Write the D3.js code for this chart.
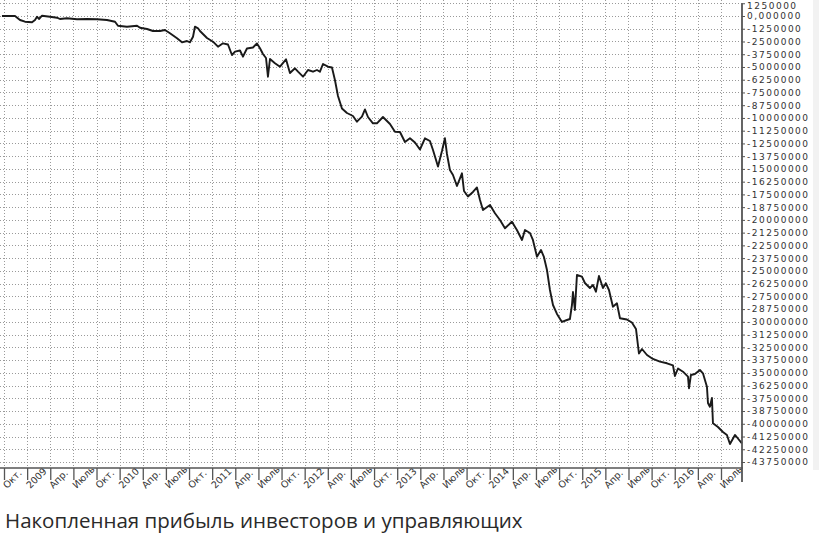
<!DOCTYPE html>
<html>
<head>
<meta charset="utf-8">
<script src="https://cdn.jsdelivr.net/npm/d3@7"></script>
<style>
  html, body { margin: 0; padding: 0; background: #fff; }
  svg { display: block; }
</style>
</head>
<body>
<svg id="chart" width="819" height="539"></svg>
<script>
// ---- DATA ----
// time as decimal year, value in millions
const years = [
  2008.728, 2008.869, 2008.923, 2008.977, 2009.053, 2009.085, 2009.107, 2009.128, 2009.161, 2009.247,
  2009.323, 2009.355, 2009.431, 2009.539, 2009.647, 2009.755, 2009.863, 2009.950, 2009.982, 2010.079,
  2010.188, 2010.220, 2010.296, 2010.360, 2010.436, 2010.490, 2010.544, 2010.620, 2010.674, 2010.728,
  2010.760, 2010.793, 2010.814, 2010.847, 2010.868, 2010.944, 2011.009, 2011.063, 2011.117, 2011.171,
  2011.214, 2011.247, 2011.301, 2011.333, 2011.376, 2011.441, 2011.484, 2011.517, 2011.549, 2011.582,
  2011.603, 2011.625, 2011.679, 2011.733, 2011.798, 2011.841, 2011.895, 2011.928, 2011.982, 2012.036,
  2012.090, 2012.133, 2012.165, 2012.198, 2012.252, 2012.295, 2012.327, 2012.360, 2012.403, 2012.457,
  2012.522, 2012.565, 2012.619, 2012.652, 2012.684, 2012.738, 2012.781, 2012.846, 2012.922, 2012.976,
  2013.030, 2013.084, 2013.138, 2013.192, 2013.246, 2013.300, 2013.354, 2013.387, 2013.441, 2013.484,
  2013.516, 2013.538, 2013.570, 2013.603, 2013.646, 2013.700, 2013.722, 2013.765, 2013.819, 2013.862,
  2013.895, 2013.927, 2014.003, 2014.057, 2014.111, 2014.165, 2014.240, 2014.294, 2014.349, 2014.381,
  2014.435, 2014.467, 2014.511, 2014.554, 2014.586, 2014.619, 2014.651, 2014.684, 2014.727, 2014.781,
  2014.835, 2014.867, 2014.889, 2014.900, 2014.921, 2014.943, 2014.997, 2015.029, 2015.083, 2015.116,
  2015.148, 2015.181, 2015.224, 2015.256, 2015.289, 2015.332, 2015.375, 2015.408, 2015.483, 2015.537,
  2015.581, 2015.613, 2015.646, 2015.700, 2015.764, 2015.840, 2015.916, 2015.981, 2016.002, 2016.035,
  2016.089, 2016.143, 2016.154, 2016.175, 2016.218, 2016.272, 2016.305, 2016.348, 2016.359, 2016.380,
  2016.402, 2016.413, 2016.467, 2016.521, 2016.564, 2016.597, 2016.651, 2016.683, 2016.726
];
const profit = [
  0, 0, -0.392, -0.559, -0.618, -0.392, -0.069, -0.294, 0.029, -0.069,
  -0.167, -0.294, -0.226, -0.324, -0.294, -0.324, -0.392, -0.559, -0.951, -1.050,
  -0.951, -1.148, -1.275, -1.471, -1.471, -1.373, -1.697, -2.187, -2.580, -2.452,
  -2.580, -2.030, -1.050, -1.207, -1.471, -2.158, -2.521, -3.011, -2.678, -2.796,
  -3.826, -3.502, -3.384, -3.992, -3.188, -3.090, -2.697, -3.168, -3.727, -4.120,
  -5.954, -4.218, -4.640, -4.973, -4.247, -5.591, -5.130, -5.464, -5.954, -5.297,
  -5.464, -5.297, -5.464, -4.708, -4.973, -5.052, -6.278, -7.847, -9.073, -9.515,
  -9.809, -10.368, -9.878, -9.171, -9.907, -10.525, -10.525, -9.907, -10.594, -11.349,
  -11.378, -12.359, -11.996, -12.408, -13.095, -11.996, -12.261, -13.144, -14.763, -13.242,
  -11.996, -13.536, -15.106, -15.596, -16.675, -15.430, -17.166, -17.705, -17.264, -16.822,
  -18.049, -19.029, -18.539, -19.353, -20.010, -20.824, -20.177, -20.991, -21.972, -20.991,
  -21.286, -21.972, -23.610, -22.953, -23.640, -24.915, -26.877, -28.349, -29.231, -30.016,
  -29.820, -29.722, -28.349, -27.073, -28.839, -25.405, -25.572, -26.190, -26.680, -26.386,
  -27.044, -25.503, -26.680, -26.219, -26.877, -28.515, -28.181, -29.653, -29.770, -30.065,
  -30.702, -33.106, -32.664, -33.253, -33.645, -33.910, -34.067, -34.282, -35.312, -34.577,
  -34.891, -35.381, -36.519, -35.214, -35.116, -34.724, -35.048, -36.362, -37.961, -38.324,
  -37.471, -39.953, -40.316, -40.806, -41.100, -41.983, -41.100, -41.444, -41.915
];
// quarterly x ticks
const xTickYears = [2008.75, 2009.0, 2009.25, 2009.5, 2009.75, 2010.0, 2010.25, 2010.5, 2010.75,
  2011.0, 2011.25, 2011.5, 2011.75, 2012.0, 2012.25, 2012.5, 2012.75, 2013.0, 2013.25, 2013.5,
  2013.75, 2014.0, 2014.25, 2014.5, 2014.75, 2015.0, 2015.25, 2015.5, 2015.75, 2016.0, 2016.25, 2016.5];
const xTickLabels = ["Окт.", "2009", "Апр.", "Июль", "Окт.", "2010", "Апр.", "Июль", "Окт.",
  "2011", "Апр.", "Июль", "Окт.", "2012", "Апр.", "Июль", "Окт.", "2013", "Апр.", "Июль",
  "Окт.", "2014", "Апр.", "Июль", "Окт.", "2015", "Апр.", "Июль", "Окт.", "2016", "Апр.", "Июль"];
// y ticks (millions) and their labels
const yTickValues = [1.25, 0, -1.25, -2.5, -3.75, -5, -6.25, -7.5, -8.75, -10, -11.25, -12.5, -13.75,
  -15, -16.25, -17.5, -18.75, -20, -21.25, -22.5, -23.75, -25, -26.25, -27.5, -28.75, -30, -31.25,
  -32.5, -33.75, -35, -36.25, -37.5, -38.75, -40, -41.25, -42.5, -43.75];
const yTickLabels = ["1250000", "0,000000", "-1250000", "-2500000", "-3750000", "-5000000", "-6250000",
  "-7500000", "-8750000", "-10000000", "-11250000", "-12500000", "-13750000", "-15000000", "-16250000",
  "-17500000", "-18750000", "-20000000", "-21250000", "-22500000", "-23750000", "-25000000", "-26250000",
  "-27500000", "-28750000", "-30000000", "-31250000", "-32500000", "-33750000", "-35000000", "-36250000",
  "-37500000", "-38750000", "-40000000", "-41250000", "-42250000", "-43750000"];
const titleText = "Накопленная прибыль инвесторов и управляющих";

// ---- LAYOUT ----
const svg = d3.select("#chart");
const plotLeft = 0, plotRight = 742, plotTop = 0, plotBottom = 468;

const x = d3.scaleLinear().domain([2008.75, 2016.5]).range([4, 721]);
const y = d3.scaleLinear().domain([0, -43.75]).range([16, 462]);

const gridColor = "#9a9a9a";
const axisColor = "#555";
const font = "'DejaVu Sans', sans-serif";

// light right band
svg.append("rect").attr("x", 813).attr("y", 0).attr("width", 6).attr("height", 470).attr("fill", "#f2f2f2");

// horizontal grid
svg.append("g").selectAll("line").data(yTickValues).join("line")
  .attr("x1", plotLeft).attr("x2", plotRight)
  .attr("y1", d => Math.round(y(d)) + 0.5).attr("y2", d => Math.round(y(d)) + 0.5)
  .attr("stroke", gridColor).attr("stroke-width", 1).attr("stroke-dasharray", "1,2");

// vertical grid
svg.append("g").selectAll("line").data(xTickYears).join("line")
  .attr("x1", d => Math.round(x(d)) + 0.5).attr("x2", d => Math.round(x(d)) + 0.5)
  .attr("y1", plotTop).attr("y2", plotBottom)
  .attr("stroke", gridColor).attr("stroke-width", 1).attr("stroke-dasharray", "1,2");

// data line
const pts = years.map((t, i) => [t, profit[i]]);
svg.append("path")
  .datum(pts)
  .attr("fill", "none")
  .attr("stroke", "#1a1a1a")
  .attr("stroke-width", 1.9)
  .attr("stroke-linejoin", "round")
  .attr("d", d3.line().x(d => x(d[0])).y(d => y(d[1])));

// x axis
const xAxis = d3.axisBottom(x).tickValues(xTickYears).tickSize(12).tickFormat("");
const gx = svg.append("g").attr("transform", `translate(0,${plotBottom})`).call(xAxis);
gx.select(".domain").remove();
gx.selectAll(".tick line").attr("stroke", axisColor).attr("stroke-width", 1.3);
svg.append("line").attr("x1", plotLeft).attr("x2", plotRight + 1)
  .attr("y1", plotBottom).attr("y2", plotBottom)
  .attr("stroke", axisColor).attr("stroke-width", 1.6);

svg.append("g").selectAll("text").data(xTickYears).join("text")
  .attr("transform", d => `translate(${x(d) + 3},${plotBottom + 21}) rotate(-45)`)
  .attr("text-anchor", "start")
  .attr("font-family", font).attr("font-size", 9.5)
  .attr("fill", "#333")
  .text((d, i) => xTickLabels[i]);

// y axis (right)
const yAxis = d3.axisRight(y).tickValues(yTickValues).tickSize(3).tickFormat((d, i) => yTickLabels[i]);
const gy = svg.append("g").attr("transform", `translate(${plotRight},0)`).call(yAxis);
gy.select(".domain").remove();
gy.selectAll(".tick line").attr("stroke", axisColor);
gy.selectAll(".tick text")
  .attr("x", 5)
  .attr("dy", (d, i) => i === 0 ? "0.57em" : "0.32em")
  .attr("font-family", font).attr("font-size", 9)
  .attr("letter-spacing", "1.5px")
  .attr("fill", "#333");
svg.append("line").attr("x1", plotRight).attr("x2", plotRight)
  .attr("y1", y(1.25)).attr("y2", plotBottom + 14)
  .attr("stroke", axisColor).attr("stroke-width", 1.8);

// title
const title = svg.append("text")
  .attr("x", 5).attr("y", 528)
  .attr("font-family", "'Open Sans', sans-serif")
  .attr("font-size", 19)
  .attr("fill", "#2a2a2a")
  .text(titleText);
const tw = title.node().getComputedTextLength();
title.attr("font-size", 19 * 518 / tw);
</script>
</body>
</html>
